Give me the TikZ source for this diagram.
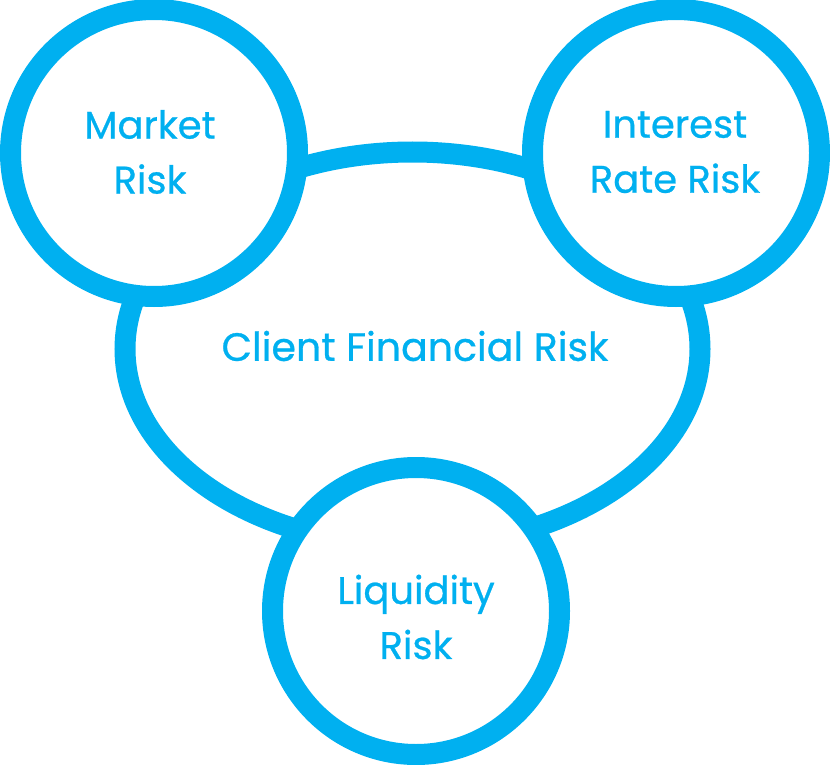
\documentclass[tikz,border=0pt]{standalone}
\usepackage{fontspec}
\setmainfont{Poppins}
\newfontfamily\lblfont{Poppins}[FakeBold=0.7]
\usetikzlibrary{shapes.geometric}
\definecolor{riskblue}{HTML}{00B0F0}
\begin{document}
\begin{tikzpicture}[x=1pt,y=-1pt,
  ring/.style={circle,draw=riskblue,fill=white,line width=21pt,minimum size=287pt,inner sep=0pt},
  hub/.style={ellipse,draw=riskblue,fill=white,line width=21pt,minimum width=575pt,minimum height=394pt,inner sep=0pt},
  lbl/.style={text=riskblue,font=\lblfont\fontsize{38.5}{55}\selectfont,align=center}]
\useasboundingbox (0,0) rectangle (830,765);
\node[hub] (client) at (412.5,349) {};
\node[lbl,font=\lblfont\fontsize{39.5}{55}\selectfont] (clienttext) at (415,346) {Client Financial Risk};
\node[ring] (market) at (154,153) {};
\node[ring] (interest) at (676,153) {};
\node[ring] (liquidity) at (416,611) {};
\node[lbl] (markettext) at (150,152) {Market\\Risk};
\node[lbl] (interesttext) at (675,152) {Interest\\Rate Risk};
\node[lbl] (liquiditytext) at (416,617) {Liquidity\\Risk};
\end{tikzpicture}
\end{document}
